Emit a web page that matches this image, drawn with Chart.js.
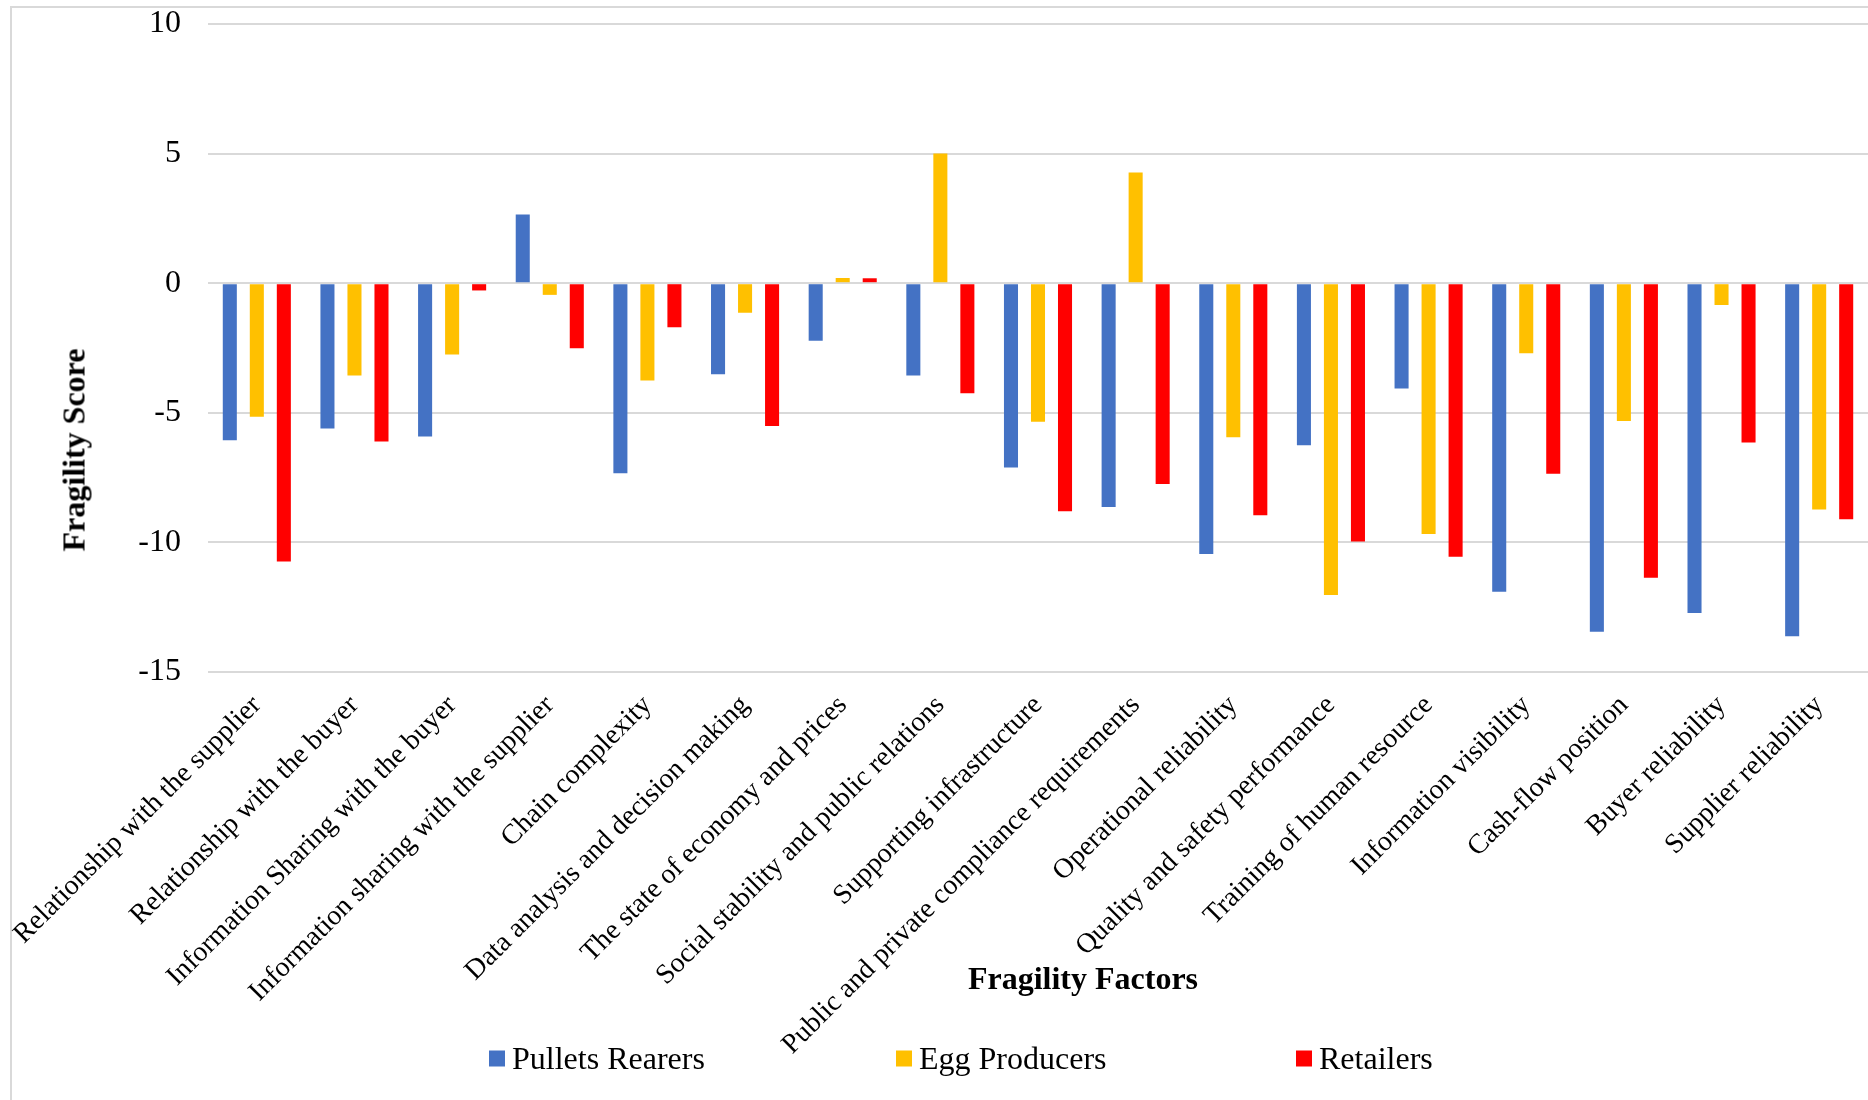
<!DOCTYPE html>
<html>
<head>
<meta charset="utf-8">
<script src="https://cdn.jsdelivr.net/npm/chart.js@4"></script>
<style>
  html, body { margin: 0; padding: 0; background: #fff; }
  #wrap { position: relative; width: 1868px; height: 1100px; overflow: hidden; font-family: "Liberation Serif", "Times New Roman", serif; }
  #frame { position: absolute; left: 10px; top: 6px; width: 1900px; height: 1200px; border: 2px solid #d9d9d9; }
  #c { position: absolute; left: 0; top: 0; }
  .title { position: absolute; font-weight: bold; font-size: 32px; color: #000; white-space: nowrap; }
  #xTitle { left: 1083px; top: 978px; transform: translate(-50%, -50%); }
  #yTitle { left: 74px; top: 450px; transform: translate(-50%, -50%) rotate(-90deg); }
  .leg { position: absolute; top: 1058px; transform: translateY(-50%); font-size: 32px; color: #000; white-space: nowrap; display: flex; align-items: center; }
  .leg i { display: inline-block; width: 16px; height: 16px; margin-right: 7px; }
</style>
</head>
<body>
<div id="wrap">
  <div id="frame"></div>
  <canvas id="c" width="1868" height="1100"></canvas>
  <div id="xTitle" class="title">Fragility Factors</div>
  <div id="yTitle" class="title">Fragility Score</div>
  <div id="legend"></div>
</div>
<script>
// Fragility factors (x categories)
const factors = [
    'Relationship with the supplier',
    'Relationship with the buyer',
    'Information Sharing with the buyer',
    'Information sharing with the supplier',
    'Chain complexity',
    'Data analysis and decision making',
    'The state of economy and prices',
    'Social stability and public relations',
    'Supporting infrastructure',
    'Public and private compliance requirements',
    'Operational reliability',
    'Quality and safety performance',
    'Training of human resource',
    'Information visibility',
    'Cash-flow position',
    'Buyer reliability',
    'Supplier reliability'
];

// Scores
const pulletsRearers = [-6.06, -5.61, -5.91, 2.65, -7.33, -3.51, -2.22, -3.56, -7.11, -8.63, -10.45, -6.25, -4.06, -11.90, -13.45, -12.72, -13.62];
const eggProducers   = [-5.15, -3.56, -2.75, -0.45, -3.75, -1.14, 0.20, 5.00, -5.35, 4.27, -5.94, -12.03, -9.68, -2.70, -5.32, -0.84, -8.73];
const retailers      = [-10.74, -6.11, -0.28, -2.51, -1.70, -5.51, 0.19, -4.25, -8.80, -7.75, -8.95, -9.97, -10.55, -7.35, -11.36, -6.15, -9.11];

const seriesNames = ['Pullets Rearers', 'Egg Producers', 'Retailers'];
const seriesColors = ['#4472C4', '#FFC000', '#FF0000'];

const yTicks = [10, 5, 0, -5, -10, -15];

const serif = '"Liberation Serif", "Times New Roman", serif';

const ctx = document.getElementById('c');

new Chart(ctx, {
    type: 'bar',
    data: {
        labels: factors,
        datasets: [pulletsRearers, eggProducers, retailers].map((vals, i) => ({
            label: seriesNames[i],
            data: vals,
            backgroundColor: seriesColors[i],
            borderWidth: 0,
            categoryPercentage: 0.83,
            barPercentage: 0.52
        }))
    },
    options: {
        responsive: false,
        animation: false,
        layout: { padding: { top: 24, right: 0, left: 0, bottom: 0 } },
        plugins: {
            legend: { display: false },
            tooltip: { enabled: false }
        },
        scales: {
            x: {
                grid: { display: false, drawTicks: false },
                border: { display: false },
                ticks: {
                    minRotation: 45,
                    maxRotation: 45,
                    autoSkip: false,
                    padding: 17,
                    color: '#000',
                    font: { family: serif, size: 28 }
                },
                afterFit: (scale) => {
                    scale.height = 428;
                    scale.paddingLeft = 0;
                    scale.paddingRight = 0;
                }
            },
            y: {
                min: -15,
                max: 10,
                afterBuildTicks: (scale) => { scale.ticks = yTicks.map(v => ({ value: v })); },
                grid: { color: '#d9d9d9', lineWidth: 2, drawTicks: false },
                border: { display: false },
                ticks: {
                    padding: 27,
                    color: '#000',
                    font: { family: serif, size: 32 }
                },
                afterFit: (scale) => {
                    scale.width = 208;
                    scale.paddingTop = 0;
                    scale.paddingBottom = 0;
                }
            }
        }
    }
});

// legend as plain html
const legendLeft = [489, 896, 1296];
const legendEl = document.getElementById('legend');
seriesNames.forEach((name, i) => {
    const d = document.createElement('div');
    d.className = 'leg';
    d.style.left = legendLeft[i] + 'px';
    d.innerHTML = '<i style="background:' + seriesColors[i] + '"></i>' + name;
    legendEl.appendChild(d);
});
</script>
</body>
</html>
